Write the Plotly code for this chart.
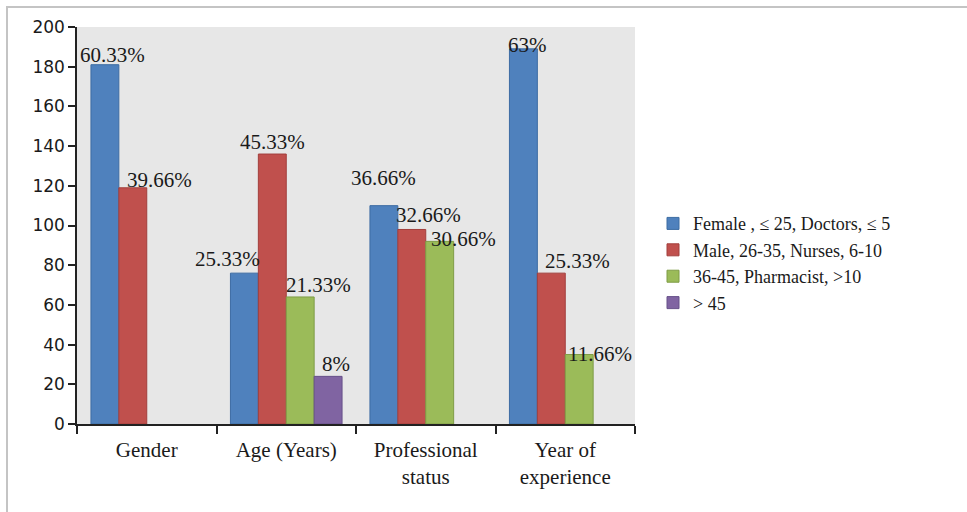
import plotly.graph_objects as go

# ---- data ----
categories = ["Gender", "Age (Years)", "Professional<br>status", "Year of<br>experience"]
series_names = ["Female , \u2264 25, Doctors, \u2264 5", "Male, 26-35, Nurses, 6-10",
                "36-45, Pharmacist, >10", "> 45"]
series1 = [181, 76, 110, 189]
series2 = [119, 136, 98, 76]
series3 = [None, 64, 92, 35]
series4 = [None, 24, None, None]
labels1 = ["60.33%", "25.33%", "36.66%", "63%"]
labels2 = ["39.66%", "45.33%", "32.66%", "25.33%"]
labels3 = [None, "21.33%", "30.66%", "11.66%"]
labels4 = [None, "8%", None, None]
y_ticks = list(range(0, 201, 20))

# ---- styles ----
fills = ["#4F81BD", "#C0504D", "#9BBB59", "#8064A2"]
edges = ["#3D6CA3", "#A23F3C", "#7F9C46", "#675089"]
# label nudges in px (dx, dy), per series per category
label_dx = [[8, -17, 0, 4], [27, 0, 17, 26], [0, 18, 24, 21], [0, 8, 0, 0]]
label_dy = [[-4, 0, 14, -10], [-6, -2, 0, -2], [0, -2, -12, -13], [0, -2, 0, 0]]

W, H = 967, 512
ML, MR, MT, MB = 77, 332, 27, 88
BARGAP = 0.2
plot_w = W - ML - MR
plot_h = H - MT - MB

values = [series1, series2, series3, series4]
labels = [labels1, labels2, labels3, labels4]

fig = go.Figure()
for i, (name, vals) in enumerate(zip(series_names, values)):
    fig.add_trace(go.Bar(
        x=categories, y=vals, name=name,
        marker=dict(color=fills[i], line=dict(color=edges[i], width=1)),
        hoverinfo="skip",
    ))

n_series = len(values)
bar_px = plot_w / len(categories) * (1 - BARGAP) / n_series
serif = "Liberation Serif, Times New Roman, serif"
for i in range(n_series):
    for j, cat in enumerate(categories):
        if labels[i][j] is None:
            continue
        fig.add_annotation(
            x=cat, y=values[i][j], xref="x", yref="y",
            text=labels[i][j], showarrow=False,
            xanchor="center", yanchor="bottom",
            xshift=(i - (n_series - 1) / 2) * bar_px + label_dx[i][j],
            yshift=label_dy[i][j],
            font=dict(family=serif, size=21, color="#1a1a1a"),
        )

# outer chart frame (light grey border)
fig.add_shape(type="rect", xref="paper", yref="paper",
              x0=(7 - ML) / plot_w, x1=1.8, y0=-0.6, y1=(H - MB - 7) / plot_h,
              line=dict(color="#c4c4c4", width=2), fillcolor="rgba(0,0,0,0)", layer="below")

fig.update_layout(
    width=W, height=H,
    margin=dict(l=ML, r=MR, t=MT, b=MB, pad=0),
    barmode="group", bargap=BARGAP, bargroupgap=0,
    plot_bgcolor="#E7E7E7", paper_bgcolor="white",
    showlegend=True,
    legend=dict(x=(653 - ML) / plot_w, xanchor="left", y=0.405, yanchor="middle",
                font=dict(family=serif, size=18, color="#1a1a1a"),
                bgcolor="rgba(0,0,0,0)", tracegroupgap=0, itemwidth=30),
    xaxis=dict(type="category", showline=True, linecolor="#222", linewidth=1.5,
               ticks="outside", tickson="boundaries", ticklen=8, tickcolor="#222",
               tickwidth=1.5, showgrid=False, ticklabelstandoff=6,
               tickfont=dict(family=serif, size=21, color="#1a1a1a")),
    yaxis=dict(range=[0, 200], tickvals=y_ticks, showline=True, linecolor="#222",
               linewidth=1.5, ticks="outside", ticklen=7, tickcolor="#222", tickwidth=1.5,
               showgrid=False, zeroline=False,
               tickfont=dict(family="DejaVu Sans, Verdana, sans-serif", size=17, color="#1a1a1a")),
)

fig.write_html("out.html")
